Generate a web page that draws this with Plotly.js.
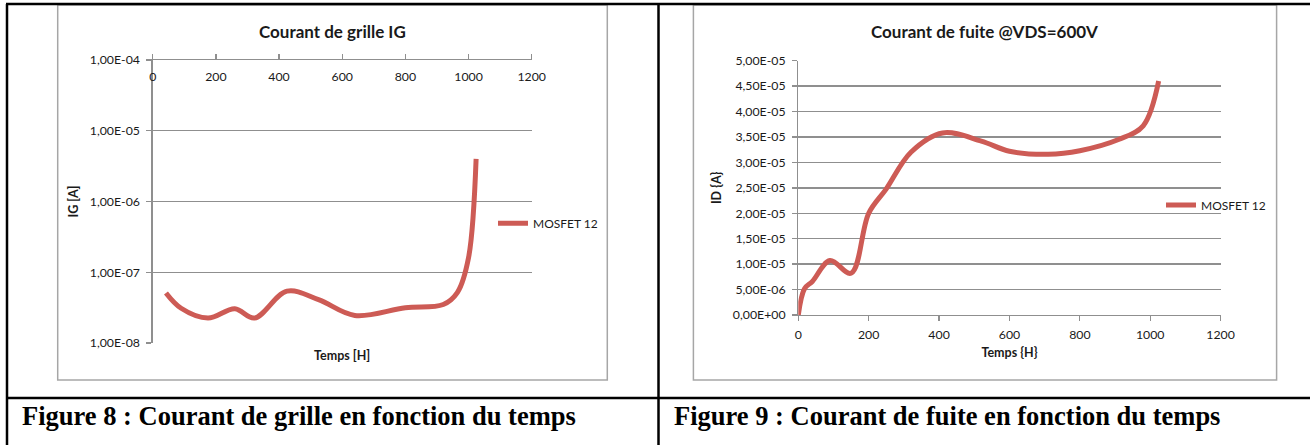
<!DOCTYPE html>
<html>
<head>
<meta charset="utf-8">
<script src="https://cdn.plot.ly/plotly-3.0.1.min.js"></script>
<style>
  html, body { margin: 0; padding: 0; background: #ffffff; }
  #chart { width: 1310px; height: 445px; }
</style>
</head>
<body>
<div id="chart"></div>
<script>
// ---- Data ----
const seriesName = 'MOSFET 12';

// Figure 8 : gate current IG vs time (log axis)
const grilleTime = [42, 90, 175, 260, 322, 425, 525, 640, 800, 920, 965, 1000, 1024];
const grilleIG   = [5.1e-8, 3.1e-8, 2.25e-8, 3.05e-8, 2.25e-8, 5.4e-8, 4.1e-8, 2.45e-8, 3.15e-8, 3.5e-8, 5.2e-8, 1.6e-7, 4.0e-6];

// Figure 9 : leakage current ID @VDS=600V vs time (linear axis)
const fuiteTime = [0, 18, 40, 90, 150, 200, 250, 320, 410, 520, 600, 710, 800, 910, 980, 1024];
const fuiteID   = [0, 5.2e-6, 6.6e-6, 1.07e-5, 8.2e-6, 2.0e-5, 2.48e-5, 3.2e-5, 3.58e-5, 3.42e-5, 3.22e-5, 3.16e-5, 3.23e-5, 3.45e-5, 3.72e-5, 4.6e-5];

// Tick labels
const timeTicks = [0, 200, 400, 600, 800, 1000, 1200];
const igTickVals = [1e-8, 1e-7, 1e-6, 1e-5, 1e-4];
const igTickText = ['1,00E-08', '1,00E-07', '1,00E-06', '1,00E-05', '1,00E-04'];
const idTickVals = [0, 5e-6, 1e-5, 1.5e-5, 2e-5, 2.5e-5, 3e-5, 3.5e-5, 4e-5, 4.5e-5, 5e-5];
const idTickText = ['0,00E+00', '5,00E-06', '1,00E-05', '1,50E-05', '2,00E-05', '2,50E-05',
                    '3,00E-05', '3,50E-05', '4,00E-05', '4,50E-05', '5,00E-05'];

// Texts
const title8 = 'Courant de grille IG';
const title9 = 'Courant de fuite @VDS=600V';
const caption8 = 'Figure 8 : Courant de grille en fonction du temps';
const caption9 = 'Figure 9 : Courant de fuite en fonction du temps';

// ---- Styling helpers ----
const W = 1310, H = 445;
const px = x => x / W;          // pixel -> paper x
const py = y => (H - y) / H;    // pixel -> paper y
const FONT = 'Lato, "Liberation Sans", Arial, sans-serif';
const SERIF = '"Liberation Serif", "Times New Roman", serif';
const TXT = '#1a1a1a';
const GRID = '#8f8f8f';
const LINE = '#cd5b55';
const FRAME = '#a6a6a6';

const traces = [
  {
    x: grilleTime, y: grilleIG, name: seriesName, type: 'scatter', mode: 'lines',
    line: { color: LINE, width: 5, shape: 'spline', smoothing: 1 },
    xaxis: 'x', yaxis: 'y', legend: 'legend', hoverinfo: 'x+y'
  },
  {
    x: fuiteTime, y: fuiteID, name: seriesName, type: 'scatter', mode: 'lines',
    line: { color: LINE, width: 5, shape: 'spline', smoothing: 1 },
    xaxis: 'x2', yaxis: 'y2', legend: 'legend2', hoverinfo: 'x+y'
  }
];

const tickFont = { family: FONT, size: 12.3, color: TXT };
const axTitleFont = { family: FONT, size: 12.5, color: TXT };

const layout = {
  width: W, height: H,
  margin: { l: 0, r: 0, t: 0, b: 0, pad: 0 },
  paper_bgcolor: '#ffffff', plot_bgcolor: 'rgba(0,0,0,0)',
  font: { family: FONT, color: TXT },
  showlegend: true,
  // ---- Left chart (log) ----
  xaxis: {
    domain: [px(152.7), px(531.7)], anchor: 'y', side: 'top',
    range: [0, 1200], tickvals: timeTicks, ticktext: timeTicks.map(String),
    showgrid: false, zeroline: false,
    showline: true, linecolor: GRID, linewidth: 1.3,
    ticks: 'outside', ticklen: 5, tickcolor: GRID, tickwidth: 1.3,
    ticklabelposition: 'inside', ticklabeloverflow: 'allow', ticklabelstandoff: 12,
    tickfont: tickFont
  },
  yaxis: {
    domain: [py(343), py(60)], anchor: 'x', type: 'log',
    range: [-8, -4], tickvals: igTickVals, ticktext: igTickText,
    showgrid: true, gridcolor: GRID, gridwidth: 1.3, zeroline: false,
    showline: true, linecolor: GRID, linewidth: 1.3,
    ticks: 'outside', ticklen: 5, tickcolor: GRID, tickwidth: 1.3, ticklabelstandoff: 4,
    tickfont: tickFont,
    title: { text: '<b>IG [A]</b>', font: axTitleFont, standoff: 8 }
  },
  // ---- Right chart (linear) ----
  xaxis2: {
    domain: [px(798.3), px(1220.6)], anchor: 'y2',
    range: [0, 1200], tickvals: timeTicks, ticktext: timeTicks.map(String),
    showgrid: false, zeroline: false,
    showline: true, linecolor: GRID, linewidth: 1.3,
    ticks: 'outside', ticklen: 5, tickcolor: GRID, tickwidth: 1.3, ticklabelstandoff: 3,
    tickfont: tickFont,
    title: { text: '<b>Temps {H}</b>', font: axTitleFont, standoff: 7 }
  },
  yaxis2: {
    domain: [py(315), py(60.7)], anchor: 'x2',
    range: [0, 5e-5], tickvals: idTickVals, ticktext: idTickText,
    showgrid: true, gridcolor: GRID, gridwidth: 1.3, zeroline: false,
    showline: true, linecolor: GRID, linewidth: 1.3,
    ticks: 'outside', ticklen: 5, tickcolor: GRID, tickwidth: 1.3, ticklabelstandoff: 4,
    tickfont: tickFont,
    title: { text: '<b>ID {A}</b>', font: axTitleFont, standoff: 8 }
  },
  legend: {
    x: px(493), y: py(223.3), xanchor: 'left', yanchor: 'middle',
    bgcolor: 'rgba(0,0,0,0)', borderwidth: 0, itemwidth: 30,
    font: { family: FONT, size: 12, color: TXT }
  },
  legend2: {
    x: px(1161), y: py(205), xanchor: 'left', yanchor: 'middle',
    bgcolor: 'rgba(0,0,0,0)', borderwidth: 0, itemwidth: 30,
    font: { family: FONT, size: 12, color: TXT }
  },
  annotations: [
    { text: '<b>' + title8 + '</b>', xref: 'paper', yref: 'paper', x: px(332.5), y: py(31),
      xanchor: 'center', yanchor: 'middle', showarrow: false, font: { family: FONT, size: 17, color: TXT } },
    { text: '<b>' + title9 + '</b>', xref: 'paper', yref: 'paper', x: px(984.5), y: py(31),
      xanchor: 'center', yanchor: 'middle', showarrow: false, font: { family: FONT, size: 17, color: TXT } },
    { text: '<b>Temps [H]</b>', xref: 'paper', yref: 'paper', x: px(342), y: py(355),
      xanchor: 'center', yanchor: 'middle', showarrow: false, font: axTitleFont },
    { text: '<b>' + caption8 + '</b>', xref: 'paper', yref: 'paper', x: px(20), y: py(416),
      xanchor: 'left', yanchor: 'middle', showarrow: false,
      font: { family: SERIF, size: 26.5, color: '#000000' } },
    { text: '<b>' + caption9 + '</b>', xref: 'paper', yref: 'paper', x: px(672), y: py(416),
      xanchor: 'left', yanchor: 'middle', showarrow: false,
      font: { family: SERIF, size: 26.5, color: '#000000' } }
  ],
  shapes: [
    // chart frames
    { type: 'rect', xref: 'paper', yref: 'paper', x0: px(57.7), x1: px(607.3), y0: py(380), y1: py(5),
      line: { color: FRAME, width: 1.5 }, layer: 'below' },
    { type: 'rect', xref: 'paper', yref: 'paper', x0: px(693.4), x1: px(1276.6), y0: py(380), y1: py(5),
      line: { color: FRAME, width: 1.5 }, layer: 'below' },
    // table borders
    { type: 'line', xref: 'paper', yref: 'paper', x0: px(6), x1: 1, y0: py(4), y1: py(4), line: { color: '#000', width: 2.5 } },
    { type: 'line', xref: 'paper', yref: 'paper', x0: px(6), x1: 1, y0: py(398), y1: py(398), line: { color: '#000', width: 2.5 } },
    { type: 'line', xref: 'paper', yref: 'paper', x0: px(7), x1: px(7), y0: py(4), y1: py(445), line: { color: '#000', width: 2.5 } },
    { type: 'line', xref: 'paper', yref: 'paper', x0: px(658.5), x1: px(658.5), y0: py(4), y1: py(445), line: { color: '#000', width: 2.5 } }
  ]
};

Plotly.newPlot('chart', traces, layout, { staticPlot: true, displayModeBar: false });
</script>
</body>
</html>
